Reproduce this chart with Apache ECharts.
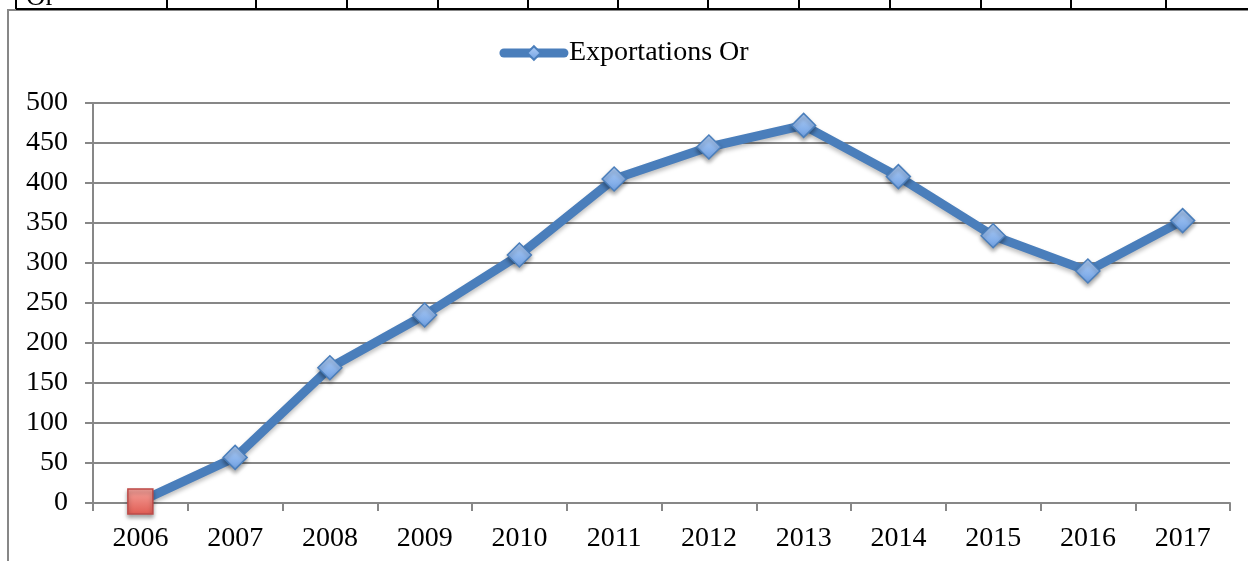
<!DOCTYPE html>
<html lang="fr">

<head>
  <meta charset="UTF-8">
  <title>Exportations Or</title>
  <style>
    html, body { margin: 0; padding: 0; background: #fff; }
  </style>
</head>

<body>
  <div id="main" style="width: 1248px;height:561px;"></div>
  <script src="https://cdn.jsdelivr.net/npm/echarts@6/dist/echarts.min.js"></script>
  <script>
    const years = ['2006', '2007', '2008', '2009', '2010', '2011', '2012',
      '2013', '2014', '2015', '2016', '2017'];
    const exportationsOr = [2, 57, 169, 235, 310, 405, 445, 472, 408, 334, 290, 353];
    const yTicks = { min: 0, max: 500, interval: 50 };

    const FONT = 'Liberation Serif';
    const GRAY = '#878787';

    const blueFill = new echarts.graphic.LinearGradient(0, 0, 0, 1, [
      { offset: 0, color: '#b3d0f7' },
      { offset: 1, color: '#6d9fe3' }
    ]);
    const redFill = new echarts.graphic.LinearGradient(0, 0, 0, 1, [
      { offset: 0, color: '#f5a49d' },
      { offset: 1, color: '#e05c53' }
    ]);

    // premier point en carré rouge, comme dans l'original
    const seriesData = exportationsOr.map((v, i) => {
      if (i === 0) {
        return {
          value: v,
          symbol: 'rect',
          symbolSize: 25,
          itemStyle: { color: redFill, borderColor: '#be4b48', borderWidth: 1.5 }
        };
      }
      return v;
    });

    // bout du tableau au-dessus du graphique
    const tableCols = [16, 167, 256, 347, 438, 528, 618, 708, 799, 890, 981, 1071, 1166];
    const tableLines = tableCols.map(x => ({
      type: 'line',
      shape: { x1: x, y1: 0, x2: x, y2: 9 },
      style: { stroke: '#000', lineWidth: 2 }
    }));

    const myChart = echarts.init(document.getElementById('main'));

    const option = {
      animation: false,
      textStyle: { fontFamily: FONT },
      legend: {
        top: 34,
        left: 'center',
        itemWidth: 60,
        itemHeight: 17,
        itemGap: 4,
        lineStyle: { width: 9, cap: 'round', color: '#4a7ebb' },
        textStyle: { fontFamily: FONT, fontSize: 28, color: '#000' },
        data: ['Exportations Or']
      },
      grid: {
        left: 93,
        right: 18,
        top: 103,
        bottom: 58,
        containLabel: false
      },
      xAxis: {
        type: 'category',
        data: years,
        boundaryGap: true,
        axisLine: { lineStyle: { color: GRAY, width: 2 } },
        axisTick: { show: true, length: 8, lineStyle: { color: GRAY, width: 2 } },
        axisLabel: { fontFamily: FONT, fontSize: 28, color: '#000', margin: 22 }
      },
      yAxis: {
        type: 'value',
        min: yTicks.min,
        max: yTicks.max,
        interval: yTicks.interval,
        axisLine: { show: true, lineStyle: { color: GRAY, width: 2 } },
        axisTick: { show: true, length: 8, lineStyle: { color: GRAY, width: 2 } },
        axisLabel: { fontFamily: FONT, fontSize: 28, color: '#000', margin: 25 },
        splitLine: { lineStyle: { color: GRAY, width: 2 } }
      },
      series: [{
        name: 'Exportations Or',
        type: 'line',
        data: seriesData,
        symbol: 'diamond',
        symbolSize: 24,
        z: 3,
        lineStyle: {
          color: '#4a7ebb',
          width: 9,
          shadowColor: 'rgba(0,0,0,0.25)',
          shadowBlur: 4,
          shadowOffsetY: 3
        },
        itemStyle: {
          color: blueFill,
          borderColor: '#4a7ebb',
          borderWidth: 1.5,
          shadowColor: 'rgba(0,0,0,0.35)',
          shadowBlur: 4,
          shadowOffsetY: 3
        }
      }],
      graphic: [
        {
          type: 'rect',
          shape: { x: 8, y: 10, width: 1260, height: 580 },
          style: { fill: 'none', stroke: GRAY, lineWidth: 2 },
          silent: true
        },
        {
          type: 'line',
          shape: { x1: 16, y1: 9, x2: 1248, y2: 9 },
          style: { stroke: '#000', lineWidth: 2 }
        },
        {
          type: 'text',
          left: 26,
          top: -16,
          style: { text: 'Or', fontFamily: FONT, fontSize: 27, fill: '#000' }
        }
      ].concat(tableLines)
    };

    myChart.setOption(option);
  </script>
</body>

</html>
